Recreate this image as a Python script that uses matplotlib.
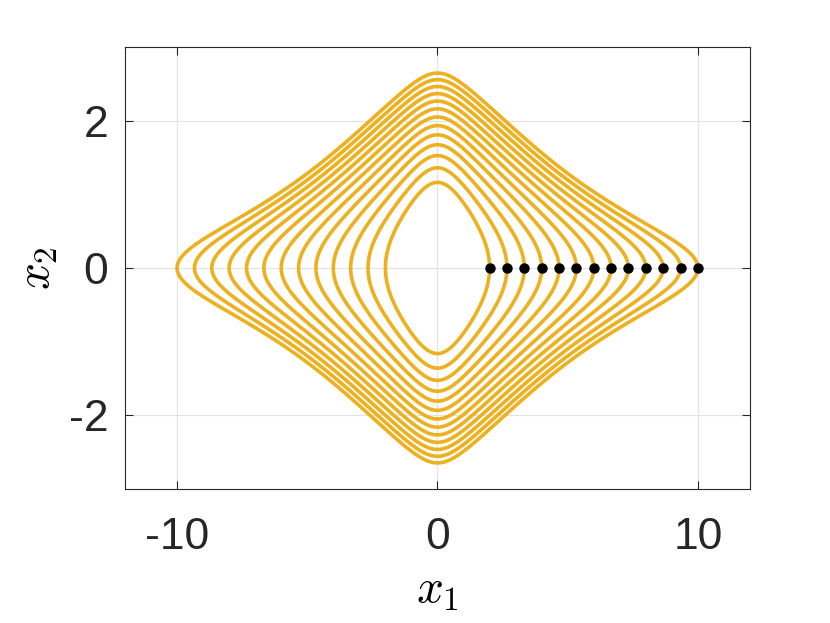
import numpy as np
import matplotlib
matplotlib.use("Agg")
import matplotlib.pyplot as plt

# starting points of the orbits (black dots on the x1 axis)
x1_start = [2.0, 2.667, 3.333, 4.0, 4.667, 5.333, 6.0, 6.667, 7.333, 8.0, 8.667, 9.333, 10.0]
x2_start = [0.0] * len(x1_start)

# conserved quantity fitted to the orbits in the picture
k_mass = 0.045
k_pot = 0.35

def energy(x1, x2):
    return 0.5 * (1 + k_mass * x1**2) * x2**2 + k_pot * x1 * np.tanh(x1)

plt.rcParams['font.family'] = ['Liberation Sans', 'DejaVu Sans']
plt.rcParams['mathtext.fontset'] = 'cm'
plt.rcParams['axes.unicode_minus'] = False

fig = plt.figure(figsize=(8.3, 6.23), dpi=100)
ax = fig.add_axes([0.1506, 0.2151, 0.753, 0.7095])

g1 = np.linspace(-12, 12, 1601)
g2 = np.linspace(-3, 3, 801)
X1, X2 = np.meshgrid(g1, g2)
levels = sorted(energy(np.array(x1_start), np.array(x2_start)))
ax.contour(X1, X2, energy(X1, X2), levels=levels, colors='#EDB120', linewidths=2.6)
ax.plot(x1_start, x2_start, 'o', color='k', markersize=6.5, zorder=5)

ax.set_xlim(-12, 12)
ax.set_ylim(-3, 3)
ax.set_xticks([-10, 0, 10])
ax.set_yticks([-2, 0, 2])
ax.grid(True, color='#e3e3e3', linewidth=0.8)
ax.set_axisbelow(True)
for s in ax.spines.values():
    s.set_color('#262626')
    s.set_linewidth(0.8)
ax.tick_params(direction='in', length=6, width=0.8, colors='#262626',
               labelsize=32, top=True, right=True)
ax.tick_params(axis='x', pad=20)
ax.tick_params(axis='y', pad=12)
ax.set_xlabel(r'$x_1$', fontsize=34, labelpad=8)
ax.set_ylabel(r'$x_2$', fontsize=34, labelpad=6)

fig.savefig('out.png', dpi=100)
